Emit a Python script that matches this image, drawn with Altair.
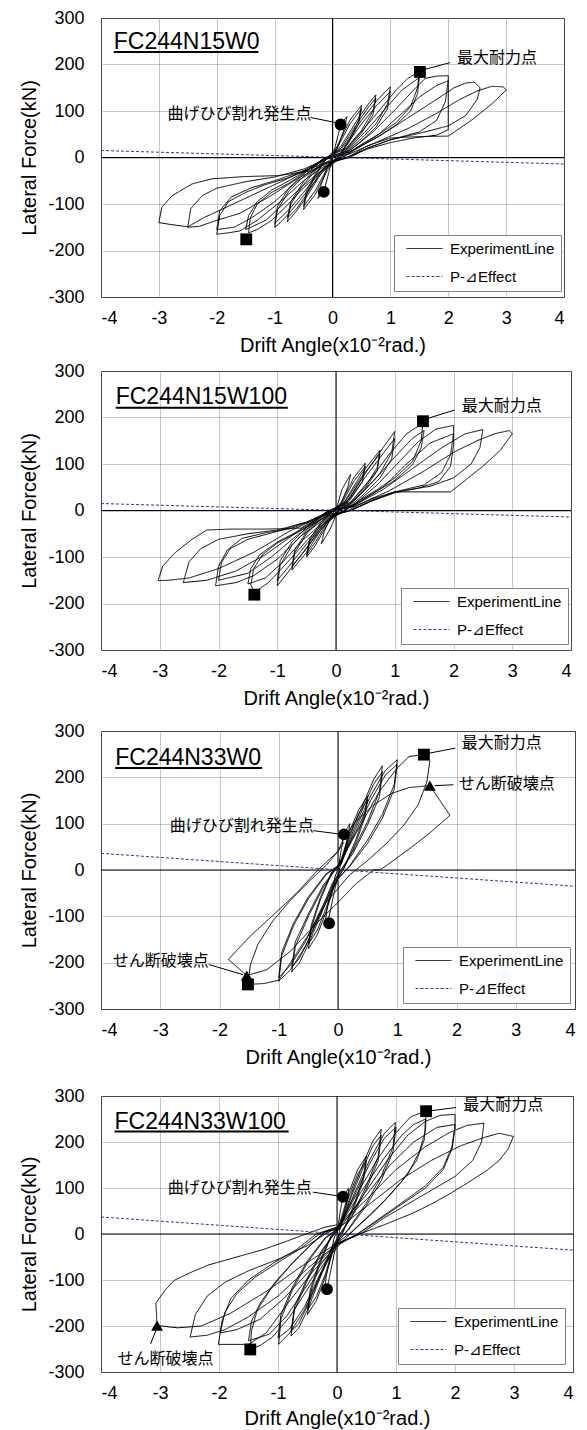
import altair as alt
import pandas as pd

FONT = "Liberation Sans"
JP_FONT = "Noto Sans CJK JP"

X_TICKS = [-4, -3, -2, -1, 0, 1, 2, 3, 4]
Y_TICKS = [-300, -200, -100, 0, 100, 200, 300]
SERIES = ["ExperimentLine", "P-⊿Effect"]
SERIES_COLORS = ["#000000", "#1f3f8f"]
SPECIMENS = ["FC244N15W0", "FC244N15W100", "FC244N33W0", "FC244N33W100"]

# P-Delta effect line end points (x = -4 and x = 4)
PDELTA_X = [-4, 4]
PDELTA_Y1 = [15, -14]
PDELTA_Y2 = [15, -14]
PDELTA_Y3 = [36, -35]
PDELTA_Y4 = [37, -35]

# hysteresis paths (drift angle x10^-2 rad, lateral force kN)
PATH1 = [
    (0, 0), (0.08, 40), (0.15, 73), (0.25, 88), (0.2, 60), (0.1, 25), (0.0, 0), (-0.08, -40), (-0.15, -73), (-0.25, -88), (-0.2, -60), (-0.1, -25), (0, 0),
    (0.1, 30), (0.3, 80), (0.5, 112), (0.45, 80), (0.3, 40), (0.12, 5), (-0.1, -30), (-0.3, -80), (-0.5, -112), (-0.45, -80), (-0.3, -40), (-0.12, -5),
    (0.1, 25), (0.3, 72), (0.5, 105), (0.45, 72), (0.28, 32), (0.1, 2), (-0.1, -25), (-0.3, -72), (-0.5, -105), (-0.45, -72), (-0.28, -32), (-0.1, -2),
    (0.15, 25), (0.45, 85), (0.62, 115), (0.75, 135), (0.7, 100), (0.5, 58), (0.25, 22), (0.05, -3), (-0.2, -35), (-0.45, -85), (-0.62, -115), (-0.78, -138), (-0.72, -100), (-0.5, -58), (-0.25, -22), (-0.05, 3),
    (0.15, 20), (0.45, 78), (0.62, 108), (0.75, 128), (0.7, 92), (0.5, 52), (0.25, 18), (0.05, -3), (-0.2, -30), (-0.45, -80), (-0.62, -110), (-0.78, -130), (-0.72, -95), (-0.5, -52), (-0.25, -18), (-0.05, 3),
    (0.2, 25), (0.5, 80), (0.75, 120), (0.9, 140), (1.0, 152), (0.95, 115), (0.75, 72), (0.45, 35), (0.15, 3), (-0.15, -28), (-0.5, -82), (-0.75, -120), (-0.9, -140), (-1.0, -150), (-0.95, -112), (-0.75, -72), (-0.45, -35), (-0.15, -3),
    (0.2, 20), (0.5, 72), (0.75, 110), (1.0, 142), (0.95, 105), (0.75, 65), (0.45, 30), (0.15, 2), (-0.15, -22), (-0.5, -75), (-0.75, -112), (-1.0, -142), (-0.95, -105), (-0.75, -65), (-0.45, -30), (-0.15, -2),
    (0.25, 20), (0.6, 70), (0.9, 115), (1.1, 145), (1.3, 170), (1.5, 185), (1.47, 150), (1.35, 110), (1.1, 75), (0.8, 50), (0.5, 28), (0.2, 3),
    (-0.1, -20), (-0.5, -65), (-0.8, -105), (-1.05, -135), (-1.3, -155), (-1.45, -162), (-1.42, -130), (-1.3, -100), (-1.05, -75), (-0.75, -55), (-0.45, -30), (-0.15, -3),
    (0.25, 15), (0.6, 60), (0.95, 110), (1.2, 145), (1.5, 172), (1.47, 138), (1.35, 100), (1.1, 70), (0.8, 46), (0.5, 25), (0.2, 2),
    (-0.1, -18), (-0.5, -60), (-0.85, -100), (-1.15, -135), (-1.5, -155), (-1.45, -125), (-1.3, -95), (-1.05, -70), (-0.75, -50), (-0.45, -28), (-0.15, -2),
    (0.3, 15), (0.7, 55), (1.1, 105), (1.4, 145), (1.6, 170), (1.8, 175), (2.0, 176), (2.0, 120), (2.0, 60), (1.8, 48), (1.4, 42), (1.0, 32), (0.6, 18), (0.25, 0),
    (-0.1, -15), (-0.5, -50), (-0.9, -95), (-1.3, -135), (-1.6, -158), (-1.8, -162), (-2.0, -165), (-1.95, -125), (-1.8, -95), (-1.5, -75), (-1.2, -60), (-0.8, -45), (-0.4, -25), (-0.1, -3),
    (0.3, 12), (0.8, 50), (1.2, 95), (1.5, 130), (1.8, 155), (2.0, 165), (1.95, 120), (1.8, 80), (1.5, 55), (1.0, 38), (0.6, 20), (0.25, 0),
    (-0.1, -12), (-0.6, -50), (-1.0, -95), (-1.4, -130), (-1.7, -150), (-2.0, -155), (-1.95, -115), (-1.75, -85), (-1.4, -65), (-1.0, -50), (-0.5, -28), (-0.1, -2),
    (0.3, 12), (0.8, 45), (1.3, 85), (1.8, 125), (2.1, 150), (2.3, 160), (2.45, 162), (2.55, 150), (2.5, 125), (2.3, 90), (2.0, 68), (1.5, 52), (1.0, 38), (0.6, 20), (0.3, 0),
    (-0.1, -12), (-0.6, -45), (-1.1, -85), (-1.6, -120), (-2.0, -135), (-2.3, -148), (-2.5, -150), (-2.45, -110), (-2.25, -82), (-2.0, -66), (-1.5, -52), (-1.0, -42), (-0.5, -25), (-0.1, -3),
    (0.3, 8), (0.8, 35), (1.3, 62), (1.8, 95), (2.2, 125), (2.5, 143), (2.75, 153), (2.95, 152), (3.0, 145), (2.75, 115), (2.4, 80), (2.0, 46), (1.5, 45), (1.0, 42), (0.6, 25), (0.3, 3),
    (-0.1, -10), (-0.6, -35), (-1.2, -70), (-1.8, -105), (-2.2, -128), (-2.5, -149), (-2.8, -144), (-3.0, -140), (-2.95, -107), (-2.77, -82), (-2.43, -57), (-2.09, -46), (-1.52, -41), (-0.95, -39), (-0.38, -29), (-0.1, -11), (0, 0),
]

PATH2 = [
    (0, 0), (0.1, 45), (0.25, 78), (0.2, 50), (0.05, 5), (-0.1, -40), (-0.25, -72), (-0.2, -45), (-0.05, -5),
    (0.1, 20), (0.3, 70), (0.5, 102), (0.45, 70), (0.25, 30), (0.05, 0), (-0.15, -30), (-0.35, -75), (-0.5, -100), (-0.45, -68), (-0.25, -28), (-0.05, 0),
    (0.1, 15), (0.3, 62), (0.5, 95), (0.45, 62), (0.25, 25), (0.05, 0), (-0.15, -25), (-0.35, -68), (-0.5, -95), (-0.45, -62), (-0.25, -24), (-0.05, 0),
    (0.15, 20), (0.45, 82), (0.75, 130), (0.7, 92), (0.5, 52), (0.25, 18), (0.0, -5), (-0.25, -40), (-0.5, -90), (-0.75, -128), (-0.7, -90), (-0.5, -50), (-0.25, -18), (0, 3),
    (0.15, 18), (0.45, 75), (0.75, 122), (0.7, 85), (0.5, 48), (0.25, 15), (0, -5), (-0.25, -35), (-0.5, -82), (-0.75, -120), (-0.7, -84), (-0.5, -46), (-0.25, -15), (0, 3),
    (0.2, 22), (0.5, 80), (0.8, 135), (1.0, 170), (0.95, 125), (0.75, 80), (0.45, 38), (0.15, 2), (-0.15, -25), (-0.5, -80), (-0.8, -130), (-1.0, -162), (-0.95, -118), (-0.75, -75), (-0.45, -35), (-0.15, -2),
    (0.2, 18), (0.5, 72), (0.8, 122), (1.0, 155), (0.95, 112), (0.75, 70), (0.45, 32), (0.15, 0), (-0.15, -22), (-0.5, -72), (-0.8, -120), (-1.0, -150), (-0.95, -108), (-0.75, -68), (-0.45, -30), (-0.15, -2),
    (0.25, 18), (0.6, 70), (0.9, 120), (1.2, 165), (1.48, 188), (1.45, 150), (1.3, 105), (1.0, 70), (0.7, 45), (0.4, 22), (0.15, 0),
    (-0.15, -20), (-0.5, -65), (-0.85, -115), (-1.15, -155), (-1.39, -176), (-1.45, -160), (-1.4, -125), (-1.25, -95), (-1.0, -70), (-0.7, -50), (-0.4, -28), (-0.15, -3),
    (0.25, 15), (0.65, 65), (1.0, 115), (1.3, 155), (1.5, 172), (1.45, 135), (1.3, 98), (1.0, 65), (0.7, 42), (0.4, 20), (0.15, 0),
    (-0.15, -18), (-0.55, -62), (-0.9, -110), (-1.2, -145), (-1.5, -158), (-1.45, -125), (-1.3, -95), (-1.0, -68), (-0.7, -48), (-0.4, -25), (-0.15, -2),
    (0.3, 12), (0.7, 55), (1.1, 108), (1.4, 148), (1.7, 175), (2.0, 183), (2.0, 140), (1.95, 95), (1.75, 62), (1.4, 48), (1.0, 38), (0.6, 20), (0.25, 0),
    (-0.15, -15), (-0.6, -55), (-1.0, -105), (-1.4, -140), (-1.7, -155), (-2.05, -162), (-2.0, -120), (-1.85, -85), (-1.6, -60), (-1.2, -48), (-0.8, -40), (-0.4, -22), (-0.1, -2),
    (0.3, 10), (0.8, 50), (1.2, 100), (1.6, 145), (2.0, 165), (1.95, 120), (1.8, 82), (1.5, 55), (1.0, 40), (0.6, 20), (0.25, 0),
    (-0.15, -12), (-0.65, -52), (-1.1, -100), (-1.5, -135), (-2.0, -150), (-1.95, -112), (-1.8, -82), (-1.5, -62), (-1.0, -45), (-0.5, -25), (-0.1, -2),
    (0.3, 10), (0.8, 45), (1.3, 90), (1.8, 135), (2.2, 165), (2.5, 174), (2.45, 135), (2.3, 100), (2.0, 70), (1.6, 52), (1.0, 40), (0.6, 22), (0.25, 0),
    (-0.15, -12), (-0.7, -50), (-1.2, -95), (-1.7, -130), (-2.2, -150), (-2.6, -155), (-2.5, -110), (-2.3, -82), (-2.0, -62), (-1.5, -50), (-1.0, -42), (-0.5, -25), (-0.1, -2),
    (0.3, 8), (0.9, 42), (1.5, 85), (2.0, 125), (2.4, 150), (2.7, 165), (2.95, 172), (3.0, 165), (2.8, 130), (2.5, 95), (2.2, 65), (1.95, 40), (1.5, 40), (1.0, 40), (0.6, 25), (0.2, 0),
    (-0.2, -10), (-0.8, -45), (-1.4, -90), (-2.0, -125), (-2.5, -145), (-2.85, -150), (-3.03, -151), (-2.95, -120), (-2.75, -92), (-2.45, -62), (-2.2, -42), (-1.8, -40), (-1.2, -40), (-0.6, -38), (-0.2, -10), (0, 0),
]

PATH3 = [
    (0, 0), (0.05, 40), (0.1, 77), (0.2, 100), (0.17, 70), (0.05, 15), (-0.05, -40), (-0.15, -100), (-0.22, -115), (-0.18, -80), (-0.05, -15),
    (0.05, 20), (0.2, 85), (0.35, 130), (0.5, 160), (0.45, 120), (0.3, 65), (0.1, 5), (-0.05, -30), (-0.2, -90), (-0.35, -140), (-0.5, -170), (-0.45, -125), (-0.3, -65), (-0.1, -5),
    (0.05, 15), (0.2, 78), (0.35, 122), (0.5, 152), (0.45, 112), (0.3, 58), (0.1, 3), (-0.05, -25), (-0.2, -82), (-0.35, -130), (-0.5, -160), (-0.45, -118), (-0.3, -60), (-0.1, -3),
    (0.05, 15), (0.25, 90), (0.45, 150), (0.6, 195), (0.75, 225), (0.7, 170), (0.5, 105), (0.25, 40), (0.05, 0), (-0.1, -35), (-0.3, -100), (-0.5, -160), (-0.65, -200), (-0.78, -220), (-0.72, -165), (-0.5, -100), (-0.25, -38), (-0.05, 0),
    (0.05, 12), (0.25, 82), (0.45, 142), (0.6, 185), (0.75, 212), (0.7, 158), (0.5, 98), (0.25, 35), (0.05, 0), (-0.1, -30), (-0.3, -92), (-0.5, -152), (-0.65, -190), (-0.78, -210), (-0.72, -155), (-0.5, -95), (-0.25, -33), (-0.05, 0),
    (0.05, 12), (0.3, 90), (0.55, 160), (0.8, 215), (1.0, 238), (0.95, 185), (0.75, 120), (0.5, 65), (0.2, 10), (0.0, -20), (-0.3, -95), (-0.55, -165), (-0.8, -215), (-1.0, -240), (-0.95, -185), (-0.75, -120), (-0.5, -62), (-0.2, -10),
    (0.0, 10), (0.3, 82), (0.55, 150), (0.8, 205), (1.0, 228), (0.95, 175), (0.75, 112), (0.5, 58), (0.2, 8), (0.0, -18), (-0.3, -88), (-0.55, -155), (-0.8, -205), (-1.0, -232), (-0.95, -178), (-0.75, -115), (-0.5, -58), (-0.2, -8),
    (0.0, 8), (0.35, 90), (0.7, 170), (1.0, 220), (1.2, 245), (1.45, 249), (1.55, 235), (1.5, 190), (1.35, 140), (1.1, 95), (0.8, 55), (0.45, 15), (0.2, -10),
    (-0.2, -70), (-0.5, -140), (-0.8, -200), (-1.0, -238), (-1.25, -245), (-1.52, -247), (-1.48, -205), (-1.35, -160), (-1.1, -110), (-0.8, -65), (-0.45, -20), (-0.2, 10),
    (0.0, 40), (0.1, 70), (0.3, 105), (0.6, 140), (0.9, 165), (1.2, 178), (1.55, 182), (1.89, 118), (1.55, 80), (1.25, 50), (0.8, 8), (0.7, 0), (0.6, 0),
    (0.3, -30), (0.0, -70), (-0.4, -120), (-0.8, -175), (-1.2, -215), (-1.54, -228), (-1.85, -193), (-1.5, -145), (-1.1, -98), (-0.7, -50), (-0.34, 0), (0.0, 40), (0.1, 60),
]

PATH4 = [
    (0, 0), (0.05, 45), (0.1, 81), (0.2, 100), (0.17, 70), (0.05, 10), (-0.05, -45), (-0.17, -120), (-0.22, -130), (-0.18, -90), (-0.05, -10),
    (0.05, 25), (0.2, 90), (0.35, 140), (0.5, 170), (0.45, 125), (0.3, 68), (0.1, 5), (-0.05, -30), (-0.2, -95), (-0.35, -145), (-0.5, -175), (-0.45, -128), (-0.3, -68), (-0.1, -5),
    (0.05, 20), (0.2, 82), (0.35, 130), (0.5, 160), (0.45, 118), (0.3, 62), (0.1, 3), (-0.05, -26), (-0.2, -88), (-0.35, -136), (-0.5, -165), (-0.45, -120), (-0.3, -62), (-0.1, -3),
    (0.05, 15), (0.25, 90), (0.45, 155), (0.6, 200), (0.75, 228), (0.7, 170), (0.5, 105), (0.25, 40), (0.05, 0), (-0.1, -35), (-0.3, -100), (-0.5, -165), (-0.65, -205), (-0.78, -222), (-0.72, -165), (-0.5, -100), (-0.25, -38), (-0.05, 0),
    (0.05, 12), (0.25, 84), (0.45, 146), (0.6, 190), (0.75, 215), (0.7, 160), (0.5, 98), (0.25, 36), (0.05, 0), (-0.1, -32), (-0.3, -94), (-0.5, -156), (-0.65, -195), (-0.78, -212), (-0.72, -158), (-0.5, -95), (-0.25, -34), (-0.05, 0),
    (0.05, 12), (0.3, 90), (0.55, 160), (0.8, 218), (0.99, 243), (0.95, 190), (0.75, 125), (0.5, 68), (0.2, 12), (0.0, -20), (-0.3, -95), (-0.55, -165), (-0.8, -215), (-0.99, -240), (-0.95, -185), (-0.75, -120), (-0.5, -62), (-0.2, -10),
    (0.0, 10), (0.3, 84), (0.55, 152), (0.8, 208), (1.0, 232), (0.95, 180), (0.75, 116), (0.5, 62), (0.2, 10), (0.0, -18), (-0.3, -90), (-0.55, -158), (-0.8, -206), (-1.0, -226), (-0.95, -176), (-0.75, -114), (-0.5, -58), (-0.2, -8),
    (0.0, 10), (0.35, 90), (0.7, 165), (1.0, 220), (1.25, 255), (1.51, 267), (1.5, 225), (1.4, 180), (1.2, 130), (0.9, 85), (0.6, 45), (0.3, 10), (0.1, -15),
    (-0.2, -60), (-0.5, -120), (-0.8, -180), (-1.1, -225), (-1.3, -242), (-1.47, -251), (-1.45, -210), (-1.35, -165), (-1.1, -115), (-0.8, -70), (-0.5, -30), (-0.2, 5),
    (0.0, 10), (0.4, 90), (0.8, 165), (1.1, 215), (1.3, 238), (1.5, 250), (1.48, 205), (1.35, 160), (1.1, 115), (0.8, 72), (0.5, 35), (0.25, 5), (0.05, -15),
    (-0.25, -62), (-0.55, -120), (-0.85, -178), (-1.15, -218), (-1.5, -232), (-1.45, -190), (-1.3, -150), (-1.05, -105), (-0.75, -62), (-0.45, -25), (-0.2, 5),
    (0.05, 12), (0.45, 85), (0.85, 160), (1.2, 215), (1.5, 245), (1.75, 258), (2.0, 260), (2.0, 230), (1.95, 185), (1.8, 140), (1.5, 100), (1.1, 65), (0.7, 30), (0.35, 0),
    (0.0, -25), (-0.4, -80), (-0.8, -145), (-1.2, -215), (-1.5, -240), (-1.8, -240), (-2.01, -240), (-1.95, -190), (-1.8, -140), (-1.5, -100), (-1.1, -65), (-0.7, -35), (-0.35, 0),
    (0.0, 15), (0.5, 85), (0.9, 150), (1.3, 200), (1.7, 232), (2.0, 238), (1.95, 190), (1.8, 145), (1.5, 105), (1.1, 68), (0.7, 32), (0.35, 0),
    (0.0, -22), (-0.45, -78), (-0.9, -140), (-1.3, -185), (-1.7, -208), (-1.98, -215), (-1.9, -170), (-1.7, -130), (-1.4, -95), (-1.0, -62), (-0.6, -30), (-0.3, 0),
    (0.0, 15), (0.5, 75), (1.0, 140), (1.5, 190), (1.9, 220), (2.2, 236), (2.49, 241), (2.45, 200), (2.3, 160), (2.0, 125), (1.6, 95), (1.2, 65), (0.8, 35), (0.4, 0),
    (0.0, -22), (-0.5, -75), (-1.0, -135), (-1.5, -180), (-1.9, -208), (-2.2, -220), (-2.49, -224), (-2.4, -175), (-2.2, -135), (-1.9, -105), (-1.5, -80), (-1.0, -55), (-0.5, -25), (-0.2, 0),
    (0.1, 20), (0.6, 70), (1.1, 120), (1.6, 160), (2.1, 192), (2.5, 210), (2.75, 219), (2.99, 212), (2.9, 185), (2.75, 160), (2.55, 139), (2.2, 110), (1.92, 88), (1.6, 65), (1.28, 45), (0.8, 20), (0.38, 0),
    (0.0, -20), (-0.6, -70), (-1.2, -125), (-1.8, -172), (-2.3, -200), (-2.7, -204), (-3.05, -199), (-3.07, -150), (-2.9, -120), (-2.75, -100), (-2.45, -82), (-2.17, -67), (-1.7, -50), (-1.28, -35), (-0.9, -18), (-0.57, -2), (-0.2, 15), (0, 20),
]

# markers: (x, y, shape)
MARKERS1 = [(1.51, 184, "square"), (-1.49, -176, "square"), (0.14, 71, "circle"), (-0.15, -74, "circle")]
MARKERS2 = [(1.48, 192, "square"), (-1.39, -181, "square")]
MARKERS3 = [(1.45, 249, "square"), (-1.52, -247, "square"), (1.55, 182, "triangle-up"), (-1.54, -228, "triangle-up"), (0.1, 77, "circle"), (-0.15, -115, "circle")]
MARKERS4 = [(1.51, 267, "square"), (-1.47, -251, "square"), (0.1, 81, "circle"), (-0.17, -120, "circle"), (-3.05, -199, "triangle-up")]

# annotation labels: (x, y, text)
LABELS1 = [(2.15, 215, "最大耐力点"), (-2.85, 93, "曲げひび割れ発生点")]
LABELS2 = [(2.14, 225, "最大耐力点")]
LABELS3 = [(2.09, 274, "最大耐力点"), (2.04, 186, "せん断破壊点"), (-2.84, 94, "曲げひび割れ発生点"), (-3.8, -197, "せん断破壊点")]
LABELS4 = [(2.14, 280, "最大耐力点"), (-2.87, 100, "曲げひび割れ発生点"), (-3.72, -272, "せん断破壊点")]

# leader lines: (x, y, x2, y2)
LEADERS1 = [(2.03, 204, 1.58, 189), (-0.38, 86, 0.1, 74)]
LEADERS2 = [(2.02, 216, 1.56, 198)]
LEADERS3 = [(1.98, 263, 1.53, 252), (1.95, 184, 1.63, 182), (-0.42, 85, 0.06, 77), (-2.18, -204, -1.6, -226)]
LEADERS4 = [(2.02, 275, 1.59, 268), (-0.41, 91, 0.06, 82), (-3.16, -239, -3.07, -210)]

# specimen name position (x, baseline y) and underline (x, x2, y)
NAME_POS = [(-3.78, 233), (-3.75, 228), (-3.76, 227), (-3.77, 229)]
UNDERLINE = [(-3.78, -1.28, 227), (-3.75, -0.82, 221), (-3.76, -1.28, 220), (-3.77, -0.82, 223)]

PATHS = [PATH1, PATH2, PATH3, PATH4]
PDELTAS = [PDELTA_Y1, PDELTA_Y2, PDELTA_Y3, PDELTA_Y4]
MARKERS = [MARKERS1, MARKERS2, MARKERS3, MARKERS4]
LABELS = [LABELS1, LABELS2, LABELS3, LABELS4]
LEADERS = [LEADERS1, LEADERS2, LEADERS3, LEADERS4]

WIDTHS = [463, 470, 474, 472]
HEIGHTS = [279, 279, 278, 276]
LEG_RIGHT = [4, 4, 6, 9]
LEG_BOTTOM = [7, 7, 7, 9]
LEG_W, LEG_H = 166, 55
TITLE_PAD = [8, 8, 8, 6]


def panel(k):
    W, H = WIDTHS[k], HEIGHTS[k]
    xs = alt.Scale(domain=[-4, 4], nice=False, zero=False)
    ys = alt.Scale(domain=[-300, 300], nice=False, zero=False)
    xaxis = alt.Axis(values=X_TICKS, labelExpr="'' + datum.value", ticks=False, domain=False,
                     labelFont=FONT, labelFontSize=18, labelColor="black", labelPadding=12,
                     grid=True, gridColor="#8c8c8c", gridDash=[1, 1], gridWidth=1,
                     title="Drift Angle(x10⁻²rad.)", titleFont=FONT, titleFontSize=20,
                     titleFontWeight="normal", titleColor="black", titlePadding=TITLE_PAD[k])
    yaxis = alt.Axis(values=Y_TICKS, labelExpr="'' + datum.value", ticks=False, domain=False,
                     labelFont=FONT, labelFontSize=18, labelColor="black", labelPadding=17,
                     grid=True, gridColor="#8c8c8c", gridDash=[1, 1], gridWidth=1,
                     title="Lateral Force(kN)", titleFont=FONT, titleFontSize=20,
                     titleFontWeight="normal", titleColor="black", titlePadding=8)
    X = alt.X("x:Q", scale=xs, axis=xaxis)
    Y = alt.Y("y:Q", scale=ys, axis=yaxis)

    rows = [{"x": x, "y": y, "series": SERIES[0], "i": j} for j, (x, y) in enumerate(PATHS[k])]
    rows += [{"x": PDELTA_X[j], "y": PDELTAS[k][j], "series": SERIES[1], "i": j} for j in range(2)]
    df = pd.DataFrame(rows)

    leg = alt.Legend(title=None, orient="none", legendX=W - LEG_RIGHT[k] - LEG_W, legendY=H - LEG_BOTTOM[k] - LEG_H,
                     symbolType="M-3,0L3,0", symbolSize=144, symbolStrokeWidth=1,
                     labelFont=FONT, labelFontSize=15, labelColor="black", labelOffset=18,
                     padding=6, rowPadding=12, symbolOffset=17, labelLimit=300,
                     strokeColor="#808080", fillColor="white")

    zero_x = alt.Chart(pd.DataFrame({"x": [0]})).mark_rule(color="black", strokeWidth=1).encode(x=X)
    zero_y = alt.Chart(pd.DataFrame({"y": [0]})).mark_rule(color="black", strokeWidth=1).encode(y=Y)

    lines = alt.Chart(df).mark_line(strokeWidth=1, strokeJoin="round").encode(
        x=X, y=Y,
        color=alt.Color("series:N", scale=alt.Scale(domain=SERIES, range=SERIES_COLORS), legend=leg),
        strokeDash=alt.StrokeDash("series:N", scale=alt.Scale(domain=SERIES, range=[[1, 0], [3, 2]]), legend=leg),
        order=alt.Order("i:Q"),
    )

    mdf = pd.DataFrame(MARKERS[k], columns=["x", "y", "shape"])
    marks = alt.Chart(mdf).mark_point(filled=True, color="black", opacity=1, size=140).encode(
        x=X, y=Y, shape=alt.Shape("shape:N", scale=None))

    ldf = pd.DataFrame(LEADERS[k], columns=["x", "y", "x2", "y2"])
    leaders = alt.Chart(ldf).mark_rule(color="black", strokeWidth=1).encode(
        x=X, y=Y, x2="x2:Q", y2="y2:Q")

    tdf = pd.DataFrame(LABELS[k], columns=["x", "y", "text"])
    labels = alt.Chart(tdf).mark_text(align="left", baseline="middle", font=JP_FONT,
                                      fontSize=16, color="black").encode(x=X, y=Y, text="text:N")

    ndf = pd.DataFrame([{"x": NAME_POS[k][0], "y": NAME_POS[k][1], "text": SPECIMENS[k]}])
    name = alt.Chart(ndf).mark_text(align="left", baseline="alphabetic", font=FONT,
                                    fontSize=23, color="black").encode(x=X, y=Y, text="text:N")
    udf = pd.DataFrame([{"x": UNDERLINE[k][0], "x2": UNDERLINE[k][1], "y": UNDERLINE[k][2]}])
    under = alt.Chart(udf).mark_rule(color="black", strokeWidth=2).encode(x=X, x2="x2:Q", y=Y)

    return alt.layer(zero_x, zero_y, lines, marks, leaders, labels, name, under).properties(width=W, height=H)


RES = dict(x="independent", y="independent", color="independent", strokeDash="independent")
top_pair = alt.vconcat(panel(0), panel(1), spacing=5).resolve_scale(**RES)
bottom_pair = alt.vconcat(panel(2), panel(3), spacing=18).resolve_scale(**RES)

chart = alt.vconcat(top_pair, bottom_pair, spacing=12).resolve_scale(**RES).properties(
    padding={"left": 11, "top": 0, "right": 0, "bottom": 0}
).configure_view(stroke="black", strokeWidth=1)

chart.save("out.html", embed_options={"renderer": "svg", "actions": False})
